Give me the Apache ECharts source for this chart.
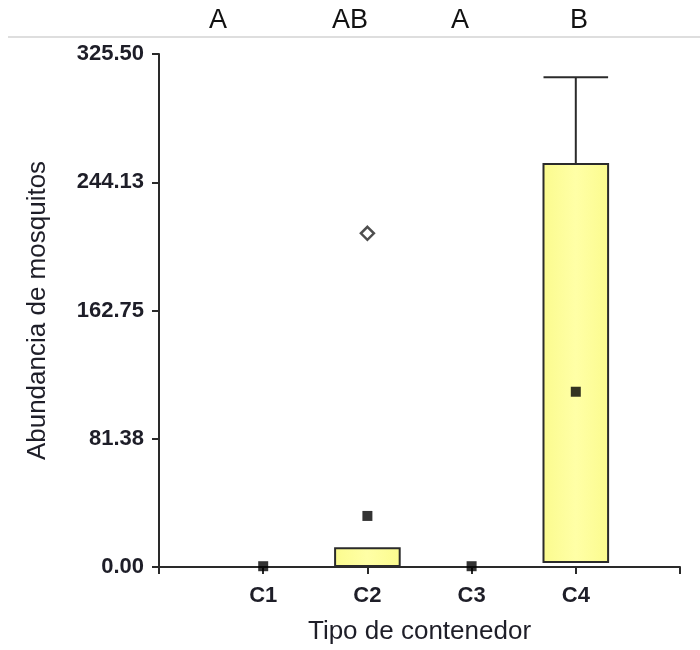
<!DOCTYPE html>
<html>
<head>
<meta charset="utf-8">
<script src="https://cdn.jsdelivr.net/npm/echarts@6/dist/echarts.min.js"></script>
<style>
  html, body { margin: 0; padding: 0; background: #fff; }
  #chart { width: 700px; height: 650px; }
</style>
</head>
<body>
<div id="chart"></div>
<script>
// categorias (posicion 1..4 en el eje x)
const categories = ['C1', 'C2', 'C3', 'C4'];
const catPos = [1, 2, 3, 4];
// caja: limite inferior / superior, bigote superior (null = sin caja)
const boxLow = [null, 0.6, null, 3.2];
const boxHigh = [null, 11.9, null, 255.7];
const whiskerHigh = [null, 11.9, null, 310.7];
// media (cuadro negro)
const means = [0.5, 32.4, 0.5, 111.2];
// valores atipicos (rombo)
const outlierPos = [2];
const outlierVal = [211.7];
// letras de significancia
const letters = ['A', 'AB', 'A', 'B'];
const letterX = [218, 350, 460, 579];
// ticks del eje y
const yTicks = [0, 81.375, 162.75, 244.125, 325.5];

const chart = echarts.init(document.getElementById('chart'));

const boxData = [];
catPos.forEach((p, i) => {
    if (boxLow[i] != null) boxData.push([p, boxLow[i], boxHigh[i], whiskerHigh[i]]);
});

const labelFont = { fontFamily: 'Liberation Sans, Arial', color: '#1e1e28' };

const option = {
    backgroundColor: '#fff',
    animation: false,
    grid: { left: 159, right: 20, top: 54, bottom: 83 },
    xAxis: {
        type: 'value',
        min: 0,
        max: 5,
        interval: 1,
        name: 'Tipo de contenedor',
        nameLocation: 'middle',
        nameGap: 52,
        nameTextStyle: Object.assign({ fontSize: 26 }, labelFont),
        axisLine: { lineStyle: { color: '#2a2a2a', width: 2 } },
        axisTick: { length: 7, lineStyle: { color: '#2a2a2a', width: 2 } },
        axisLabel: Object.assign({
            fontSize: 22, fontWeight: 'bold', margin: 18,
            formatter: v => categories[catPos.indexOf(v)] || ''
        }, labelFont),
        splitLine: { show: false }
    },
    yAxis: {
        type: 'value',
        min: yTicks[0],
        max: yTicks[yTicks.length - 1],
        interval: yTicks[1],
        name: 'Abundancia de mosquitos',
        nameLocation: 'middle',
        nameGap: 108,
        nameTextStyle: Object.assign({ fontSize: 26 }, labelFont),
        axisLine: { show: true, lineStyle: { color: '#2a2a2a', width: 2 } },
        axisTick: { show: true, length: 7, lineStyle: { color: '#2a2a2a', width: 2 } },
        axisLabel: Object.assign({
            fontSize: 22, fontWeight: 'bold', margin: 15,
            formatter: v => v.toFixed(2)
        }, labelFont),
        splitLine: { show: false }
    },
    series: [
        {
            type: 'custom',
            clip: false,
            renderItem: function (params, api) {
                const x = api.value(0);
                const lo = api.coord([x, api.value(1)]);
                const hi = api.coord([x, api.value(2)]);
                const wh = api.coord([x, api.value(3)]);
                const w = api.size([0.62, 0])[0];
                const style = { stroke: '#2b2b2b', lineWidth: 2 };
                const children = [];
                if (wh[1] < hi[1] - 1) {
                    children.push({
                        type: 'line',
                        shape: { x1: hi[0], y1: hi[1], x2: wh[0], y2: wh[1] },
                        style: style
                    });
                    children.push({
                        type: 'line',
                        shape: { x1: wh[0] - w / 2, y1: wh[1], x2: wh[0] + w / 2, y2: wh[1] },
                        style: style
                    });
                }
                children.push({
                    type: 'rect',
                    shape: { x: lo[0] - w / 2, y: hi[1], width: w, height: lo[1] - hi[1] },
                    style: {
                        fill: new echarts.graphic.LinearGradient(0, 0, 1, 0, [
                            { offset: 0, color: '#fbfb8e' },
                            { offset: 0.5, color: '#ffffa6' },
                            { offset: 1, color: '#fbfb8e' }
                        ]),
                        stroke: '#2b2b2b',
                        lineWidth: 2
                    }
                });
                return { type: 'group', children: children };
            },
            data: boxData,
            z: 2
        },
        {
            type: 'scatter',
            symbol: 'rect',
            symbolSize: 10,
            clip: false,
            itemStyle: { color: '#000' },
            data: catPos.map((p, i) => [p, means[i]]),
            z: 5
        },
        {
            type: 'scatter',
            symbol: 'diamond',
            symbolSize: 13,
            clip: false,
            itemStyle: { color: '#fff', borderColor: '#222', borderWidth: 2.5 },
            data: outlierPos.map((p, i) => [p, outlierVal[i]]),
            z: 5
        }
    ],
    graphic: [
        {
            type: 'line',
            shape: { x1: 8, y1: 37, x2: 700, y2: 37 },
            style: { stroke: '#bdbdbd', lineWidth: 1 }
        }
    ].concat(letters.map((t, i) => ({
        type: 'text',
        x: letterX[i],
        y: 34,
        style: {
            text: t,
            fontSize: 27,
            fontFamily: 'Liberation Sans, Arial',
            fill: '#111',
            textAlign: 'center',
            textVerticalAlign: 'bottom'
        }
    })))
};

chart.setOption(option);
</script>
</body>
</html>
